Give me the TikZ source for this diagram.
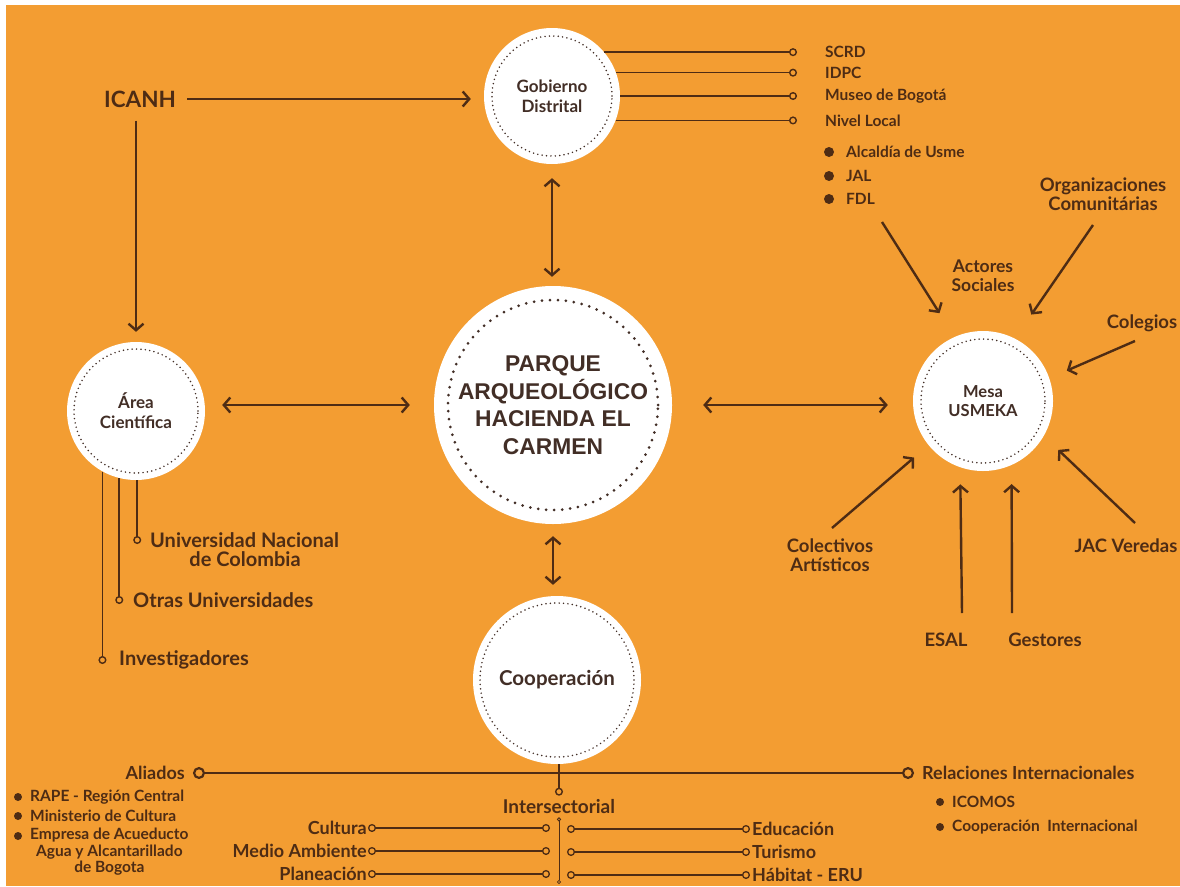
\documentclass[tikz,border=0pt]{standalone}
\usepackage{fontspec}
\setmainfont{Lato}
\newfontfamily\titulofont{Liberation Sans}
\usetikzlibrary{arrows.meta}

\definecolor{naranja}{RGB}{243,157,50}
\definecolor{cafe}{RGB}{78,44,20}
\definecolor{tinta}{RGB}{66,46,38}

\begin{document}
\begin{tikzpicture}
    [
    x=1pt, y=-1pt,
    burbuja/.style={circle, fill=white, inner sep=0pt, minimum size=#1, align=center, text=tinta, font=\bfseries\fontsize{17}{20}\selectfont},
    puntos/.style={draw=tinta, line width=1.7pt, dash pattern=on 0pt off 4.4pt, line cap=round},
    flecha/.style={draw=cafe, line width=2.4pt, -{Straight Barb[length=6.5pt,width=15pt]}},
    doble/.style={flecha, {Straight Barb[length=6.5pt,width=15pt]}-{Straight Barb[length=6.5pt,width=15pt]}},
    rama/.style={draw=cafe, line width=1.6pt, -{Circle[open,length=8pt,width=8pt,line width=1.4pt]}},
    fila/.style={draw=cafe, line width=1.5pt, {Circle[open,length=8pt,width=8pt,line width=1.3pt]}-{Circle[open,length=8pt,width=8pt,line width=1.3pt]}},
    barra/.style={draw=cafe, line width=2.6pt, {Circle[open,length=12pt,width=12pt,line width=2.2pt]}-{Circle[open,length=12pt,width=12pt,line width=2.2pt]}},
    hilo/.style={draw=cafe, line width=0.8pt, {Circle[open,length=4pt,width=4pt]}-{Circle[open,length=4pt,width=4pt]}},
    etiqueta/.style={text=cafe, inner sep=0pt, align=center, font=\bfseries\fontsize{15.5}{18}\selectfont},
    media/.style={etiqueta, font=\bfseries\fontsize{18.5}{19}\selectfont},
    chica/.style={etiqueta, font=\bfseries\fontsize{15.5}{16.5}\selectfont},
    grande/.style={etiqueta, font=\bfseries\fontsize{18}{20}\selectfont}
    ]

    \fill[white] (0,0) rectangle (1180,886);
    \fill[naranja] (6,5) rectangle (1180,886);

    % circulos
    \node[burbuja=136pt] (gobierno) at (552,96) {Gobierno\\Distrital};
    \node[burbuja=138pt] (area) at (136,411) {Área\\Científica};
    \node[burbuja=238pt, font=\titulofont\bfseries\fontsize{22.8}{27.5}\selectfont] (parque) at (553,405) {PARQUE\\ARQUEOLÓGICO\\HACIENDA EL\\CARMEN};
    \node[burbuja=140pt, font=\bfseries\fontsize{16.5}{19}\selectfont] (mesa) at (983,401) {Mesa\\USMEKA};
    \node[burbuja=168pt, font=\bfseries\fontsize{20.5}{23}\selectfont] (coop) at (557,680) {Cooperación};
    \draw[puntos] (gobierno) circle (60pt);
    \draw[puntos] (area) circle (62pt);
    \draw[puntos, line width=3pt, dash pattern=on 0pt off 8pt] (parque) circle (105pt);
    \draw[puntos] (mesa) circle (62pt);
    \draw[puntos] (coop) circle (77pt);

    \node[etiqueta, font=\bfseries\fontsize{22.5}{24}\selectfont] (icanh) at (140,99) {ICANH};
    \draw[flecha, shorten <=11pt, shorten >=13pt] (icanh.east) -- (icanh.east -| gobierno.west);
    \draw[flecha, shorten <=13pt, shorten >=10pt] (area.north |- icanh.south) -- (area.north);
    \draw[doble, shorten <=17pt, shorten >=24pt] (area.east |- parque.west) -- (parque.west);
    \draw[doble, shorten <=31pt, shorten >=25pt] (parque.east) -- (parque.east -| mesa.west);
    \draw[doble, shorten <=14pt, shorten >=9pt] (gobierno.south) -- (gobierno.south |- parque.north);
    \draw[doble, shorten <=12pt, shorten >=11pt] (parque.south) -- (parque.south |- coop.north);

    % gobierno distrital
    \node[etiqueta, anchor=west] (scrd) at (825,52) {SCRD};
    \node[etiqueta, anchor=west] (idpc) at (825,73) {IDPC};
    \node[etiqueta, anchor=west] (museo) at (825,96) {Museo de Bogotá};
    \node[etiqueta, anchor=west] (nivel) at (825,121) {Nivel Local};
    \draw[rama, shorten >=28pt] (gobierno.40) -- (gobierno.40 -| scrd.west);
    \draw[rama, shorten >=28pt] (gobierno.20) -- (gobierno.20 -| idpc.west);
    \draw[rama, shorten >=28pt] (gobierno.0) -- (gobierno.0 -| museo.west);
    \draw[rama, shorten >=28pt] (gobierno.-21) -- (gobierno.-21 -| nivel.west);
    \node[etiqueta, anchor=west] (alcaldia) at (846,152) {Alcaldía de Usme};
    \node[etiqueta, anchor=west] (jal) at (846,176) {JAL};
    \node[etiqueta, anchor=west] (fdl) at (846,199) {FDL};
    \foreach \n in {alcaldia,jal,fdl}
        \fill[cafe] ([xshift=-17pt]\n.west) circle (5pt);

    % mesa usmeka
    \node[etiqueta, font=\bfseries\fontsize{17.5}{19}\selectfont] (actores) at (983,276) {Actores\\Sociales};
    \node[media] (org) at (1103,194) {Organizaciones\\Comunitárias};
    \node[media] (colegios) at (1142,323) {Colegios};
    \node[media] (jac) at (1126,546) {JAC Veredas};
    \node[media] (colectivos) at (830,555) {Colectivos\\Artísticos};
    \node[media] (esal) at (946,640) {ESAL};
    \node[media] (gestores) at (1045,640) {Gestores};
    \coordinate (desdeFdl) at (882,222);
    \coordinate (desdeOrg) at (1093,225);
    \coordinate (desdeCol) at (1135,341);
    \coordinate (desdeJac) at (1135,523);
    \coordinate (desdeArt) at (832,528);
    \coordinate (desdeEsal) at (962,613);
    \coordinate (desdeGes) at (1012,613);
    \draw[flecha, shorten >=28pt] (desdeFdl) -- (mesa.114);
    \draw[flecha, shorten >=29pt] (desdeOrg) -- (mesa.63);
    \draw[flecha, shorten >=19pt] (desdeCol) -- (mesa.19);
    \draw[flecha, shorten >=20pt] (desdeJac) -- (mesa.-30);
    \draw[flecha, shorten >=19pt] (desdeArt) -- (mesa.219);
    \draw[flecha, shorten >=17pt] (desdeEsal) -- (mesa.251);
    \draw[flecha, shorten >=19pt] (desdeGes) -- (mesa.294);

    % area cientifica
    \node[etiqueta, font=\bfseries\fontsize{20}{22}\selectfont, anchor=west] (unal) at (150,540) {Universidad Nacional};
    \node[etiqueta, font=\bfseries\fontsize{20}{22}\selectfont] (colombia) at (245,559) {de Colombia};
    \node[etiqueta, font=\bfseries\fontsize{20}{22}\selectfont, anchor=west] (otras) at (133,600) {Otras Universidades};
    \node[etiqueta, font=\bfseries\fontsize{20}{22}\selectfont, anchor=west] (invest) at (119,660) {Investigadores};
    \draw[rama, shorten >=-4pt] (area.271) -- (area.271 |- unal.west);
    \draw[rama, shorten >=-4pt] (area.256) -- (area.256 |- otras.west);
    \draw[rama, shorten >=-4pt] (area.241) -- (area.241 |- invest.west);

    % cooperacion
    \node[grande, anchor=east] (aliados) at (185,773) {Aliados};
    \node[grande, anchor=west] (relaciones) at (922,773) {Relaciones Internacionales};
    \draw[barra, shorten <=8pt, shorten >=8pt] (aliados.east) -- (relaciones.west);
    \node[chica, anchor=west] (rape) at (30,797) {RAPE - Región Central};
    \node[chica, anchor=west] (ministerio) at (30,816) {Ministerio de Cultura};
    \node[chica, anchor=north west] (empresa) at (30,828) {Empresa de Acueducto\\Agua y Alcantarillado\\de Bogota};
    \node[chica, anchor=west] (icomos) at (952,802) {ICOMOS};
    \node[chica, anchor=west] (coopint) at (952,827) {Cooperación\ \ Internacional};
    \foreach \n in {rape,ministerio,icomos,coopint}
        \fill[cafe] ([xshift=-12pt]\n.west) circle (4pt);
    \fill[cafe] ([xshift=-12pt,yshift=-8pt]empresa.north west) circle (4pt);

    \node[grande, font=\bfseries\fontsize{19}{21}\selectfont] (inter) at (559,807) {Intersectorial};
    \draw[rama, shorten >=4pt] (inter.north |- coop.south) -- (inter.north);
    \coordinate (interFin) at (559,884);
    \draw[hilo, shorten <=3pt] (inter.south) -- (interFin);

    \node[grande, anchor=east] (cultura) at (367,828) {Cultura};
    \node[grande, anchor=east] (ambiente) at (367,851) {Medio Ambiente};
    \node[grande, anchor=east] (planeacion) at (367,874) {Planeación};
    \node[grande, anchor=west] (educacion) at (752,829) {Educación};
    \node[grande, anchor=west] (turismo) at (752,852) {Turismo};
    \node[grande, anchor=west] (habitat) at (752,875) {Hábitat - ERU};
    \foreach \n in {cultura,ambiente,planeacion}
        \draw[fila, shorten <=1pt, shorten >=9pt] (\n.east) -- (\n.east -| inter.center);
    \foreach \n in {educacion,turismo,habitat}
        \draw[fila, shorten <=8pt, shorten >=2pt] (inter.center |- \n.west) -- (\n.west);
\end{tikzpicture}
\end{document}
